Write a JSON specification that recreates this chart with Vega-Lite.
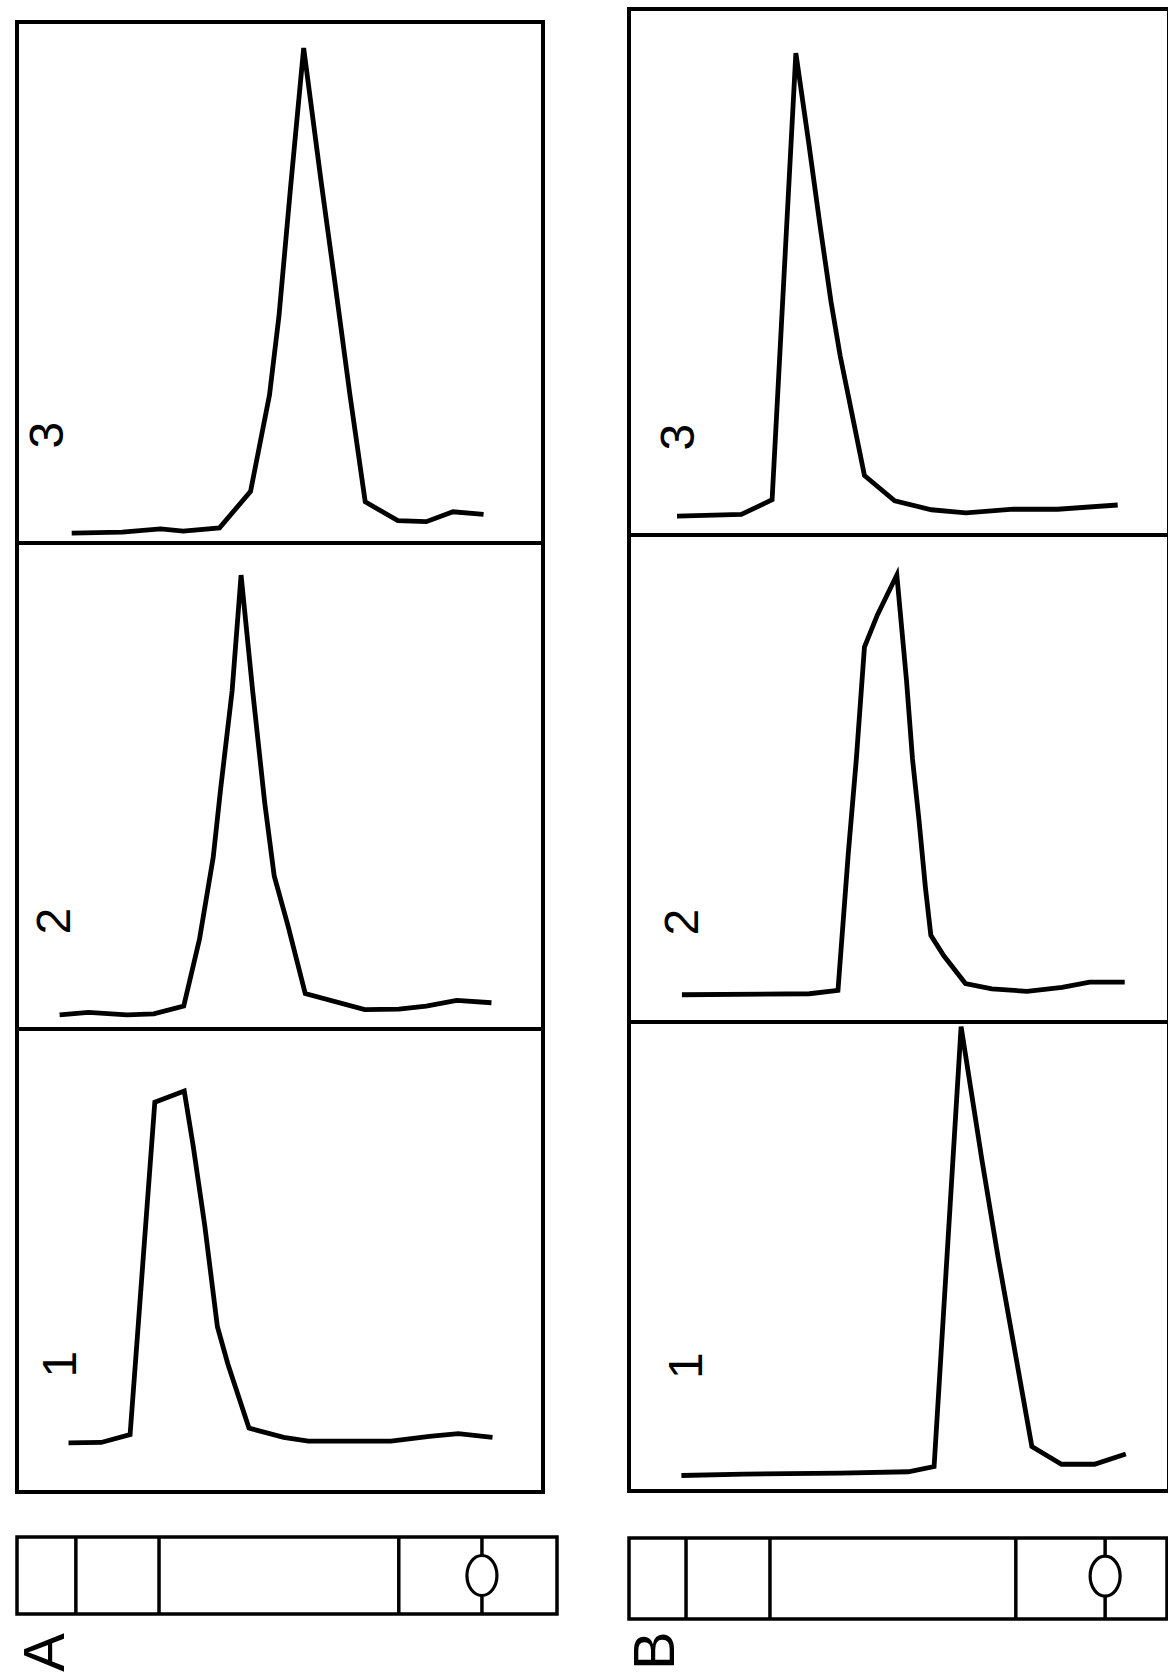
{
  "$schema": "https://vega.github.io/schema/vega-lite/v6.json",
  "background": "white",
  "padding": {"left": 15, "top": 7, "right": 0, "bottom": 0},
  "config": {"view": {"stroke": "black", "strokeWidth": 4}},
  "datasets": {
    "traces": [
      {"p":"A3","x":10.4,"y":1.9},{"p":"A3","x":20.0,"y":2.1},{"p":"A3","x":27.3,"y":2.7},{"p":"A3","x":31.6,"y":2.3},{"p":"A3","x":38.5,"y":2.9},{"p":"A3","x":44.4,"y":9.9},{"p":"A3","x":48.0,"y":28.4},{"p":"A3","x":49.8,"y":43.5},{"p":"A3","x":52.0,"y":68.2},{"p":"A3","x":54.5,"y":95.0},{"p":"A3","x":57.8,"y":69.5},{"p":"A3","x":60.4,"y":50.3},{"p":"A3","x":63.3,"y":28.4},{"p":"A3","x":66.2,"y":7.9},{"p":"A3","x":72.4,"y":4.3},{"p":"A3","x":77.8,"y":4.1},{"p":"A3","x":82.9,"y":6.0},{"p":"A3","x":88.7,"y":5.5},
      {"p":"A2","x":8.1,"y":2.9},{"p":"A2","x":13.6,"y":3.4},{"p":"A2","x":20.9,"y":2.9},{"p":"A2","x":26.0,"y":3.1},{"p":"A2","x":31.7,"y":4.7},{"p":"A2","x":34.7,"y":18.5},{"p":"A2","x":37.3,"y":35.3},{"p":"A2","x":38.7,"y":49.3},{"p":"A2","x":40.9,"y":69.6},{"p":"A2","x":42.6,"y":93.4},{"p":"A2","x":44.8,"y":69.6},{"p":"A2","x":47.1,"y":46.5},{"p":"A2","x":48.9,"y":31.5},{"p":"A2","x":51.5,"y":21.3},{"p":"A2","x":54.8,"y":7.3},{"p":"A2","x":66.1,"y":4.0},{"p":"A2","x":72.6,"y":4.1},{"p":"A2","x":77.8,"y":4.7},{"p":"A2","x":83.6,"y":5.9},{"p":"A2","x":90.2,"y":5.4},
      {"p":"A1","x":9.8,"y":10.6},{"p":"A1","x":16.0,"y":10.7},{"p":"A1","x":21.5,"y":12.4},{"p":"A1","x":26.2,"y":84.2},{"p":"A1","x":31.8,"y":86.6},{"p":"A1","x":33.5,"y":74.7},{"p":"A1","x":35.7,"y":57.5},{"p":"A1","x":38.1,"y":35.7},{"p":"A1","x":40.1,"y":27.6},{"p":"A1","x":44.1,"y":13.8},{"p":"A1","x":50.7,"y":11.8},{"p":"A1","x":55.4,"y":11.0},{"p":"A1","x":71.1,"y":11.0},{"p":"A1","x":78.4,"y":12.0},{"p":"A1","x":83.9,"y":12.6},{"p":"A1","x":90.4,"y":11.8},
      {"p":"B3","x":8.9,"y":3.6},{"p":"B3","x":20.8,"y":3.9},{"p":"B3","x":26.5,"y":6.7},{"p":"B3","x":30.9,"y":91.6},{"p":"B3","x":33.3,"y":74.4},{"p":"B3","x":35.3,"y":59.4},{"p":"B3","x":37.4,"y":44.4},{"p":"B3","x":39.1,"y":34.1},{"p":"B3","x":41.4,"y":22.5},{"p":"B3","x":43.6,"y":11.3},{"p":"B3","x":49.2,"y":6.5},{"p":"B3","x":56.0,"y":4.8},{"p":"B3","x":62.4,"y":4.2},{"p":"B3","x":71.2,"y":4.9},{"p":"B3","x":79.4,"y":4.9},{"p":"B3","x":90.5,"y":5.7},
      {"p":"B2","x":9.8,"y":5.6},{"p":"B2","x":33.4,"y":5.8},{"p":"B2","x":38.7,"y":6.5},{"p":"B2","x":40.6,"y":34.5},{"p":"B2","x":42.1,"y":54.0},{"p":"B2","x":43.6,"y":77.0},{"p":"B2","x":46.0,"y":83.6},{"p":"B2","x":49.6,"y":91.8},{"p":"B2","x":51.4,"y":70.0},{"p":"B2","x":52.5,"y":54.0},{"p":"B2","x":53.7,"y":41.5},{"p":"B2","x":54.9,"y":27.5},{"p":"B2","x":55.9,"y":17.8},{"p":"B2","x":58.3,"y":13.6},{"p":"B2","x":62.3,"y":7.9},{"p":"B2","x":67.2,"y":6.8},{"p":"B2","x":73.7,"y":6.3},{"p":"B2","x":80.2,"y":7.1},{"p":"B2","x":85.3,"y":8.2},{"p":"B2","x":91.8,"y":8.2},
      {"p":"B1","x":9.7,"y":3.3},{"p":"B1","x":21.3,"y":3.6},{"p":"B1","x":39.1,"y":3.8},{"p":"B1","x":51.7,"y":4.1},{"p":"B1","x":56.5,"y":5.2},{"p":"B1","x":61.5,"y":99.0},{"p":"B1","x":65.4,"y":70.3},{"p":"B1","x":68.4,"y":49.5},{"p":"B1","x":71.2,"y":31.5},{"p":"B1","x":74.6,"y":9.5},{"p":"B1","x":80.1,"y":5.7},{"p":"B1","x":86.2,"y":5.7},{"p":"B1","x":92.0,"y":7.9}
    ],
    "labels": [
      {"p":"A3","x":6.1,"y":20.7,"t":"3"},
      {"p":"A2","x":7.4,"y":22.2,"t":"2"},
      {"p":"A1","x":8.6,"y":27.6,"t":"1"},
      {"p":"B3","x":9.4,"y":18.6,"t":"3"},
      {"p":"B2","x":10.2,"y":20.5,"t":"2"},
      {"p":"B1","x":10.9,"y":26.7,"t":"1"}
    ],
    "lanes": [
      {"s":"A","x":10.9},{"s":"A","x":26.3},{"s":"A","x":70.7},{"s":"A","x":86.1},
      {"s":"B","x":10.6},{"s":"B","x":26.2},{"s":"B","x":71.9},{"s":"B","x":88.5}
    ],
    "spots": [
      {"s":"A","x":86.1,"y":0.5},
      {"s":"B","x":88.5,"y":0.53}
    ],
    "letters": [
      {"s":"A","x":5.6,"y":-0.5,"t":"A"},
      {"s":"B","x":5.2,"y":-0.39,"t":"B"}
    ]
  },
  "spacing": 67,
  "hconcat": [
    {
      "spacing": 39,
      "vconcat": [
        {
          "bounds": "flush",
          "spacing": 0,
          "vconcat": [
            {"width": 526, "height": 13, "view": {"stroke": null, "fill": "white"}, "data": {"values": []}, "mark": "point"},
            {"width": 526, "height": 521, "layer": [
              {"data": {"name": "traces"}, "transform": [{"filter": "datum.p === 'A3'"}], "mark": {"type": "line", "color": "black", "strokeWidth": 4.8}, "encoding": {"x": {"field": "x", "type": "quantitative", "scale": {"domain": [0, 100], "nice": false}, "axis": null}, "y": {"field": "y", "type": "quantitative", "scale": {"domain": [0, 100], "nice": false}, "axis": null}}},
              {"data": {"name": "labels"}, "transform": [{"filter": "datum.p === 'A3'"}], "mark": {"type": "text", "angle": 270, "fontSize": 48, "font": "Liberation Sans", "align": "center", "baseline": "middle", "color": "black"}, "encoding": {"x": {"field": "x", "type": "quantitative"}, "y": {"field": "y", "type": "quantitative"}, "text": {"field": "t"}}}
            ]},
            {"width": 526, "height": 486, "layer": [
              {"data": {"name": "traces"}, "transform": [{"filter": "datum.p === 'A2'"}], "mark": {"type": "line", "color": "black", "strokeWidth": 4.8}, "encoding": {"x": {"field": "x", "type": "quantitative", "scale": {"domain": [0, 100], "nice": false}, "axis": null}, "y": {"field": "y", "type": "quantitative", "scale": {"domain": [0, 100], "nice": false}, "axis": null}}},
              {"data": {"name": "labels"}, "transform": [{"filter": "datum.p === 'A2'"}], "mark": {"type": "text", "angle": 270, "fontSize": 48, "font": "Liberation Sans", "align": "center", "baseline": "middle", "color": "black"}, "encoding": {"x": {"field": "x", "type": "quantitative"}, "y": {"field": "y", "type": "quantitative"}, "text": {"field": "t"}}}
            ]},
            {"width": 526, "height": 463, "layer": [
              {"data": {"name": "traces"}, "transform": [{"filter": "datum.p === 'A1'"}], "mark": {"type": "line", "color": "black", "strokeWidth": 4.8}, "encoding": {"x": {"field": "x", "type": "quantitative", "scale": {"domain": [0, 100], "nice": false}, "axis": null}, "y": {"field": "y", "type": "quantitative", "scale": {"domain": [0, 100], "nice": false}, "axis": null}}},
              {"data": {"name": "labels"}, "transform": [{"filter": "datum.p === 'A1'"}], "mark": {"type": "text", "angle": 270, "fontSize": 48, "font": "Liberation Sans", "align": "center", "baseline": "middle", "color": "black"}, "encoding": {"x": {"field": "x", "type": "quantitative"}, "y": {"field": "y", "type": "quantitative"}, "text": {"field": "t"}}}
            ]}
          ]
        },
        {"width": 540, "height": 77, "view": {"strokeWidth": 3.5}, "layer": [
          {"data": {"name": "lanes"}, "transform": [{"filter": "datum.s === 'A'"}], "mark": {"type": "rule", "color": "black", "strokeWidth": 3.5}, "encoding": {"x": {"field": "x", "type": "quantitative", "scale": {"domain": [0, 100], "nice": false}, "axis": null}}},
          {"data": {"name": "spots"}, "transform": [{"filter": "datum.s === 'A'"}], "mark": {"type": "point", "shape": "M0,-1 A0.75,1 0 1,1 0,1 A0.75,1 0 1,1 0,-1 Z", "size": 1600, "filled": false, "fill": "white", "fillOpacity": 1, "stroke": "black", "strokeWidth": 3.2, "opacity": 1}, "encoding": {"x": {"field": "x", "type": "quantitative"}, "y": {"field": "y", "type": "quantitative", "scale": {"domain": [0, 1], "nice": false, "zero": false}, "axis": null}}},
          {"data": {"name": "letters"}, "transform": [{"filter": "datum.s === 'A'"}], "mark": {"type": "text", "angle": 270, "fontSize": 58, "font": "Liberation Sans", "align": "center", "baseline": "middle", "color": "black"}, "encoding": {"x": {"field": "x", "type": "quantitative"}, "y": {"field": "y", "type": "quantitative"}, "text": {"field": "t"}}}
        ]}
      ]
    },
    {
      "spacing": 41,
      "vconcat": [
        {
          "bounds": "flush",
          "spacing": 0,
          "vconcat": [
            {"width": 540, "height": 526, "layer": [
              {"data": {"name": "traces"}, "transform": [{"filter": "datum.p === 'B3'"}], "mark": {"type": "line", "color": "black", "strokeWidth": 4.8}, "encoding": {"x": {"field": "x", "type": "quantitative", "scale": {"domain": [0, 100], "nice": false}, "axis": null}, "y": {"field": "y", "type": "quantitative", "scale": {"domain": [0, 100], "nice": false}, "axis": null}}},
              {"data": {"name": "labels"}, "transform": [{"filter": "datum.p === 'B3'"}], "mark": {"type": "text", "angle": 270, "fontSize": 48, "font": "Liberation Sans", "align": "center", "baseline": "middle", "color": "black"}, "encoding": {"x": {"field": "x", "type": "quantitative"}, "y": {"field": "y", "type": "quantitative"}, "text": {"field": "t"}}}
            ]},
            {"width": 540, "height": 487, "layer": [
              {"data": {"name": "traces"}, "transform": [{"filter": "datum.p === 'B2'"}], "mark": {"type": "line", "color": "black", "strokeWidth": 4.8}, "encoding": {"x": {"field": "x", "type": "quantitative", "scale": {"domain": [0, 100], "nice": false}, "axis": null}, "y": {"field": "y", "type": "quantitative", "scale": {"domain": [0, 100], "nice": false}, "axis": null}}},
              {"data": {"name": "labels"}, "transform": [{"filter": "datum.p === 'B2'"}], "mark": {"type": "text", "angle": 270, "fontSize": 48, "font": "Liberation Sans", "align": "center", "baseline": "middle", "color": "black"}, "encoding": {"x": {"field": "x", "type": "quantitative"}, "y": {"field": "y", "type": "quantitative"}, "text": {"field": "t"}}}
            ]},
            {"width": 540, "height": 469, "layer": [
              {"data": {"name": "traces"}, "transform": [{"filter": "datum.p === 'B1'"}], "mark": {"type": "line", "color": "black", "strokeWidth": 4.8}, "encoding": {"x": {"field": "x", "type": "quantitative", "scale": {"domain": [0, 100], "nice": false}, "axis": null}, "y": {"field": "y", "type": "quantitative", "scale": {"domain": [0, 100], "nice": false}, "axis": null}}},
              {"data": {"name": "labels"}, "transform": [{"filter": "datum.p === 'B1'"}], "mark": {"type": "text", "angle": 270, "fontSize": 48, "font": "Liberation Sans", "align": "center", "baseline": "middle", "color": "black"}, "encoding": {"x": {"field": "x", "type": "quantitative"}, "y": {"field": "y", "type": "quantitative"}, "text": {"field": "t"}}}
            ]}
          ]
        },
        {"width": 538, "height": 81, "view": {"strokeWidth": 3.5}, "layer": [
          {"data": {"name": "lanes"}, "transform": [{"filter": "datum.s === 'B'"}], "mark": {"type": "rule", "color": "black", "strokeWidth": 3.5}, "encoding": {"x": {"field": "x", "type": "quantitative", "scale": {"domain": [0, 100], "nice": false}, "axis": null}}},
          {"data": {"name": "spots"}, "transform": [{"filter": "datum.s === 'B'"}], "mark": {"type": "point", "shape": "M0,-1 A0.75,1 0 1,1 0,1 A0.75,1 0 1,1 0,-1 Z", "size": 1600, "filled": false, "fill": "white", "fillOpacity": 1, "stroke": "black", "strokeWidth": 3.2, "opacity": 1}, "encoding": {"x": {"field": "x", "type": "quantitative"}, "y": {"field": "y", "type": "quantitative", "scale": {"domain": [0, 1], "nice": false, "zero": false}, "axis": null}}},
          {"data": {"name": "letters"}, "transform": [{"filter": "datum.s === 'B'"}], "mark": {"type": "text", "angle": 270, "fontSize": 58, "font": "Liberation Sans", "align": "center", "baseline": "middle", "color": "black"}, "encoding": {"x": {"field": "x", "type": "quantitative"}, "y": {"field": "y", "type": "quantitative"}, "text": {"field": "t"}}}
        ]}
      ]
    }
  ]
}
